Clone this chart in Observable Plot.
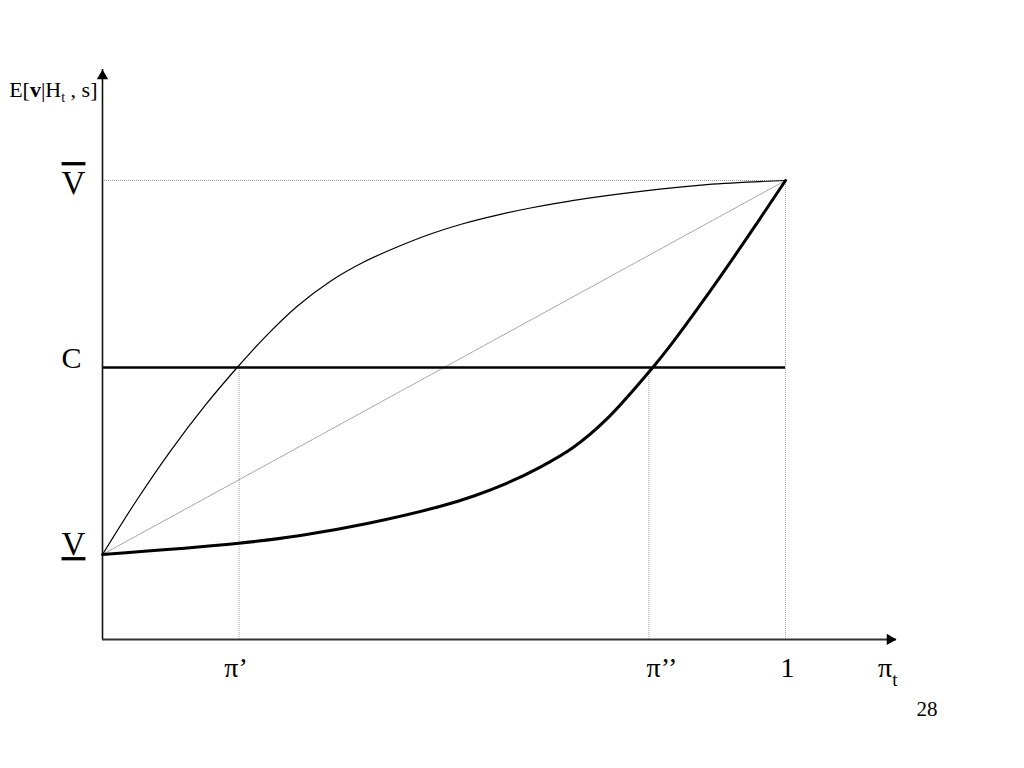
<!DOCTYPE html>
<html><head><meta charset="utf-8">
<script src="https://cdn.jsdelivr.net/npm/d3@7"></script>
<script src="https://cdn.jsdelivr.net/npm/@observablehq/plot@0.6"></script>
<style>body{margin:0;background:#fff} svg{display:block}</style>
</head><body><div id="chart"></div>
<script>
// Upper (thin) curve
const upperX = [0, 0.05, 0.1, 0.15, 0.1972, 0.2362, 0.2851, 0.3338, 0.3826, 0.4315, 0.4802, 0.529, 0.5779, 0.6266, 0.690, 0.788, 0.885, 1];
const upperY = [0, 0.145, 0.278, 0.398, 0.5, 0.578, 0.6636, 0.7308, 0.782, 0.8222, 0.857, 0.885, 0.9075, 0.9265, 0.947, 0.971, 0.989, 1];
// Lower (thick) curve
const lowerX = [0, 0.1962, 0.2899, 0.3876, 0.4949, 0.5437, 0.5925, 0.641, 0.6896, 0.7389, 0.8057, 0.8360, 0.8854, 0.9341, 1];
const lowerY = [0, 0.0294, 0.0508, 0.0829, 0.1289, 0.1565, 0.1910, 0.2338, 0.2869, 0.3633, 0.5002, 0.5699, 0.6934, 0.821, 1];
const vLow = 0, vHigh = 1, cLevel = 0.5;
const piPrime = 0.2, piDouble = 0.8, piOne = 1;
const xTickValues = [piPrime, piDouble, piOne];
const xTickLabels = ["π’", "π’’", "1"];
const yTickValues = [vHigh, cLevel, vLow];
const yTickLabels = ["V", "C", "V"];
const yTitle = "E[v|Ht , s]";
const xTitle = "πt";
const pageNumber = "28";
const axisXMin = 0, axisXMax = 1.1625, axisYMin = -0.227, axisYMax = 1.297;

const upper = upperX.map((x, i) => ({x, y: upperY[i]}));
const lower = lowerX.map((x, i) => ({x, y: lowerY[i]}));
const diag = [{x: 0, y: vLow}, {x: piOne, y: vHigh}];
const guidesV = [
  {x: piPrime, y1: axisYMin, y2: cLevel},
  {x: piDouble, y1: axisYMin, y2: cLevel},
  {x: piOne, y1: axisYMin, y2: vHigh}
];
const xLabels = xTickValues.map((x, i) => ({x, label: xTickLabels[i]}));
const yLabels = yTickValues.map((y, i) => ({y, label: yTickLabels[i]}));
const serif = "Liberation Serif, Times New Roman, serif";
const dotted = {stroke: "#9a9a9a", strokeWidth: 1, strokeDasharray: "1,1"};
const txt = {fill: "#000", fontFamily: serif, textAnchor: "middle"};

const chart = Plot.plot({
  width: 1024, height: 768,
  marginTop: 0, marginRight: 0, marginBottom: 0, marginLeft: 0,
  style: {fontFamily: serif, background: "#fff", color: "#000"},
  x: {domain: [0, 1], range: [102, 785], axis: null},
  y: {domain: [0, 1], range: [554, 180], axis: null},
  marks: [
    Plot.ruleY([vHigh], {x1: 0, x2: piOne, ...dotted}),
    Plot.line(diag, {x: "x", y: "y", ...dotted}),
    Plot.ruleX(guidesV, {x: "x", y1: "y1", y2: "y2", ...dotted}),
    Plot.line(upper, {x: "x", y: "y", curve: "catmull-rom", stroke: "#000", strokeWidth: 1.2}),
    Plot.line(lower, {x: "x", y: "y", curve: "catmull-rom", stroke: "#000", strokeWidth: 3}),
    Plot.ruleY([cLevel], {x1: 0, x2: piOne, stroke: "#000", strokeWidth: 2.5}),
    Plot.ruleX([0], {y1: axisYMin, y2: axisYMax, stroke: "#111", strokeWidth: 1.6}),
    Plot.ruleY([axisYMin], {x1: 0, x2: axisXMax, stroke: "#333", strokeWidth: 2}),
    Plot.dot([{x: 0, y: axisYMax}], {x: "x", y: "y", symbol: "triangle", r: 4.2, fill: "#000", stroke: null, dy: 6.5}),
    Plot.dot([{x: axisXMax, y: axisYMin}], {x: "x", y: "y", symbol: "triangle", r: 4.2, fill: "#000", stroke: null, rotate: 90, dx: -6.5}),
    // y tick labels
    Plot.text(yLabels.slice(0, 1), {x: 0, y: "y", text: "label", dx: -29, dy: 3, fontSize: 33, ...txt}),
    Plot.text(yLabels.slice(1, 2), {x: 0, y: "y", text: "label", dx: -31, dy: -9.5, fontSize: 30, ...txt}),
    Plot.text(yLabels.slice(2, 3), {x: 0, y: "y", text: "label", dx: -29, dy: -10, fontSize: 33, ...txt}),
    // x tick labels
    Plot.text(xLabels.slice(0, 1), {x: "x", y: axisYMin, text: "label", dx: -3, dy: 29, fontSize: 28, ...txt}),
    Plot.text(xLabels.slice(1, 2), {x: "x", y: axisYMin, text: "label", dx: 13, dy: 29, fontSize: 28, ...txt}),
    Plot.text(xLabels.slice(2, 3), {x: "x", y: axisYMin, text: "label", dx: 2, dy: 29, fontSize: 28, ...txt}),
    Plot.text([xTitle], {x: axisXMax, y: axisYMin, text: d => d, dx: 1, dy: 29, fontSize: 28, fill: "#000", textAnchor: "end"}),
    Plot.text([yTitle], {x: 0, y: axisYMax, text: d => d, dx: -5, dy: 21, fontSize: 22, fill: "#000", textAnchor: "end"}),
    Plot.text([pageNumber], {frameAnchor: "bottom-right", text: d => d, dx: -87, dy: -53, fontSize: 21, fill: "#000", textAnchor: "end"})
  ]
});

const NS = "http://www.w3.org/2000/svg";
function rich(svg, content, parts) {
  for (const t of svg.querySelectorAll("text")) {
    if (t.textContent === content) {
      t.textContent = "";
      let shift = 0;
      for (const p of parts) {
        const ts = document.createElementNS(NS, "tspan");
        ts.textContent = p.t;
        if (p.bold) ts.setAttribute("font-weight", "bold");
        const target = p.sub ? p.sub.shift : 0;
        if (target !== shift) { ts.setAttribute("dy", target - shift); shift = target; }
        if (p.sub) ts.setAttribute("font-size", p.sub.size);
        t.appendChild(ts);
      }
    }
  }
}
rich(chart, yTitle, [{t: "E["}, {t: "v", bold: true}, {t: "|H"}, {t: "t", sub: {size: 14, shift: 5}}, {t: " , s]"}]);
rich(chart, xTitle, [{t: "π"}, {t: "t", sub: {size: 19, shift: 9}}]);
const vs = [...chart.querySelectorAll("text")].filter(t => t.textContent === "V");
if (vs[0]) vs[0].style.textDecoration = "overline";
if (vs[1]) vs[1].style.textDecoration = "underline";
document.getElementById("chart").appendChild(chart);
</script>
</body></html>
